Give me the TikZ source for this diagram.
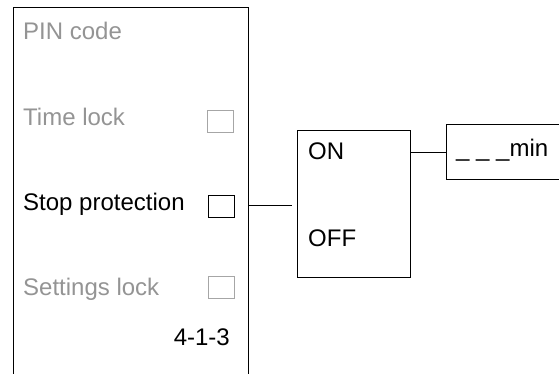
\documentclass[tikz,border=0pt]{standalone}
\usepackage{fontspec}
\setmainfont{Liberation Sans}
\usetikzlibrary{calc}

\tikzset{
    frame/.style={draw=black, line width=1pt},
    checkbox/.style={draw=black!35, line width=1pt, minimum width=26pt, minimum height=22pt, inner sep=0pt},
    label/.style={inner sep=0pt, font=\fontsize{24}{28}\selectfont},
    dimmed/.style={label, text=black!42}
}

\begin{document}
\begin{tikzpicture}[x=1pt, y=-1pt]
        \useasboundingbox (0,0) rectangle (559,374);

        % Menu panel
        \begin{scope}
            \draw[frame] (13,374) -- (13,8) -- (248,8) -- (248,374);
            \node[dimmed, anchor=base west] (pin) at (23,40) {PIN code};
            \node[dimmed, anchor=base west] (timelock) at (23,126) {Time lock};
            \node[checkbox] (timebox) at (220.5,122) {};
            \node[label, anchor=base west] (stopprot) at (23,211) {Stop protection};
            \node[checkbox, draw=black] (stopbox) at (221,206.5) {};
            \node[dimmed, anchor=base west] (settlock) at (23,295) {Settings lock};
            \node[checkbox] (settbox) at (221.5,287) {};
            \node[label, anchor=base east] (path) at (230,345) {4-1-3};
            \coordinate (panelE) at (248,205);
        \end{scope}

        % On/Off choice
        \begin{scope}
            \node[frame, minimum width=113pt, minimum height=146pt, inner sep=0pt] (onoff) at (353.5,204) {};
            \node[label, anchor=base west] (on) at (308,160) {ON};
            \node[label, anchor=base west] (off) at (308,246) {OFF};
        \end{scope}

        % Minutes field
        \begin{scope}
            \node[frame, minimum width=140pt, minimum height=55pt, inner sep=0pt, anchor=west] (minbox) at (446,152.5) {};
            \node[label, anchor=base west] (minutes) at (456,157) {\_ \_ \_min};
        \end{scope}

        \draw[frame, shorten >=5pt] (panelE) -- (panelE -| onoff.west);
        \draw[frame] (onoff.east |- minbox.west) -- (minbox.west);
    \end{tikzpicture}
\end{document}
